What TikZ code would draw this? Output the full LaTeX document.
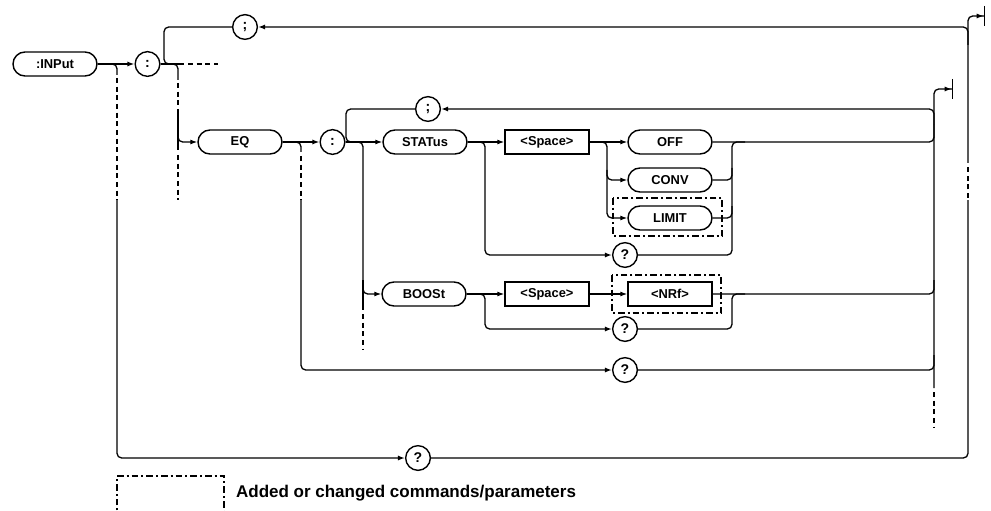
\documentclass[tikz,border=0pt]{standalone}
\usepackage{fontspec}
\setmainfont{Liberation Sans}
\usetikzlibrary{arrows.meta}

\tikzset{
  cmd/.style={draw, rectangle, rounded corners=0.36cm, minimum width=2.52cm,
    minimum height=0.72cm, inner sep=0pt, line width=1.2pt,
    font=\bfseries\fontsize{11}{13}\selectfont},
  par/.style={draw, rectangle, minimum width=2.52cm, minimum height=0.72cm,
    inner sep=0pt, line width=1.2pt, font=\bfseries\fontsize{11}{13}\selectfont},
  sym/.style={draw, circle, minimum size=0.74cm, inner sep=0pt, line width=1.2pt,
    font=\bfseries\fontsize{12}{14}\selectfont},
  flow/.style={line width=1.1pt, rounded corners=0.14cm},
  go/.style={flow, -{Latex[length=2.1mm,width=1.5mm]}},
  stop/.style={flow, -{Latex[length=2.1mm,width=1.5mm]Bar[width=6mm]}},
  skip/.style={line width=1.1pt, dash pattern=on 0.15cm off 0.11cm},
  newbox/.style={line width=1.1pt, dash pattern=on 0.2cm off 0.09cm on 0.06cm off 0.09cm}
}

\begin{document}
\begin{tikzpicture}[x=0.03cm, y=-0.03cm]
  \useasboundingbox (0,0) rectangle (991,511);

  % command nodes
  \node[cmd] (inp) at (55,64) {:INPut};
  \node[sym] (col1) at (147.5,64) {:};
  \node[sym] (semi1) at (245,27) {;};
  \node[cmd] (eq) at (240,142) {EQ};
  \node[sym] (col2) at (332.5,142) {:};
  \node[sym] (semi2) at (428,109) {;};
  \node[cmd] (stat) at (425,142) {STATus};
  \node[par] (sp1) at (547,142) {<Space>};
  \node[cmd] (off) at (670,142) {OFF};
  \node[cmd] (conv) at (670,180) {CONV};
  \node[cmd] (limit) at (670,218) {LIMIT};
  \node[sym] (q1) at (625,255) {?};
  \node[cmd] (boost) at (424,294) {BOOSt};
  \node[par] (sp2) at (547,294) {<Space>};
  \node[par] (nrf) at (670,294) {<NRf>};
  \node[sym] (q2) at (625,329) {?};
  \node[sym] (q3) at (625,370) {?};
  \node[sym] (q4) at (418,458) {?};
  \coordinate (end1) at (953,89);
  \coordinate (end2) at (985,16);

  % new items
  \draw[newbox] (613,198) rectangle (722,236);
  \draw[newbox] (612,275) rectangle (721,313);

  % :INPut level
  \draw[go] (inp) -- (col1);
  \draw[flow] (inp.east) -| (117,75);
  \draw[skip] (117,78) -- (117,200);
  \draw[go] (117,200) |- (q4);
  \draw[flow] (q4.east) -| (968,200);
  \draw[skip] (968,198) -- (968,165);
  \draw[stop] (968,163) |- (end2);
  \draw[go] (968,45) |- (semi1);
  \draw[flow] (semi1.west) -| (164,64) -- (172,64);
  \draw[flow] (col1.east) -- (184,64);
  \draw[skip] (188,64) -- (218,64);

  % EQ level
  \draw[flow] (col1.east) -| (178,80);
  \draw[skip] (178,83) -- (178,112);
  \draw[flow] (178,112) -- (178,150);
  \draw[go] (178,120) |- (eq);
  \draw[skip] (178,155) -- (178,200);
  \draw[go] (eq) -- (col2);
  \draw[flow] (eq.east) -| (301,152);
  \draw[skip] (301,156) -- (301,200);
  \draw[go] (301,200) |- (q3);
  \draw[flow] (q3.east) -| (934,355);
  \draw[stop] (934,388) |- (end1);
  \draw[skip] (934,392) -- (934,427);
  \draw[go] (934,125) |- (semi2);
  \draw[flow] (semi2.west) -| (346,142) -- (353,142);

  % STATus
  \draw[go] (col2) -- (stat);
  \draw[go] (stat) -- (sp1);
  \draw[go] (stat.east) -| (485,200) |- (q1);
  \draw[go] (sp1) -- (off);
  \draw[go] (sp1.east) -| (607,200) |- (limit);
  \draw[go] (607,170) |- (conv);
  \draw[flow] (off.east) -| (934,125);
  \draw[flow] (conv.east) -| (732,168);
  \draw[flow] (limit.east) -| (732,206);
  \draw[flow] (q1.east) -| (732,142) -- (745,142);

  % BOOSt
  \draw[go] (col2.east) -| (363,200) |- (boost);
  \draw[flow] (363,280) -- (363,310);
  \draw[skip] (363,314) -- (363,350);
  \draw[go] (boost) -- (sp2);
  \draw[go] (boost.east) -| (485,310) |- (q2);
  \draw[go] (sp2) -- (nrf);
  \draw[flow] (nrf.east) -| (934,280);
  \draw[flow] (q2.east) -| (732,294) -- (745,294);

  % legend
  \draw[newbox] (117,520) -- (117,476) -- (224,476) -- (224,520);
  \node[anchor=west, font=\bfseries\fontsize{14.5}{17}\selectfont] (note) at (232,493)
    {Added or changed commands/parameters};
\end{tikzpicture}
\end{document}
